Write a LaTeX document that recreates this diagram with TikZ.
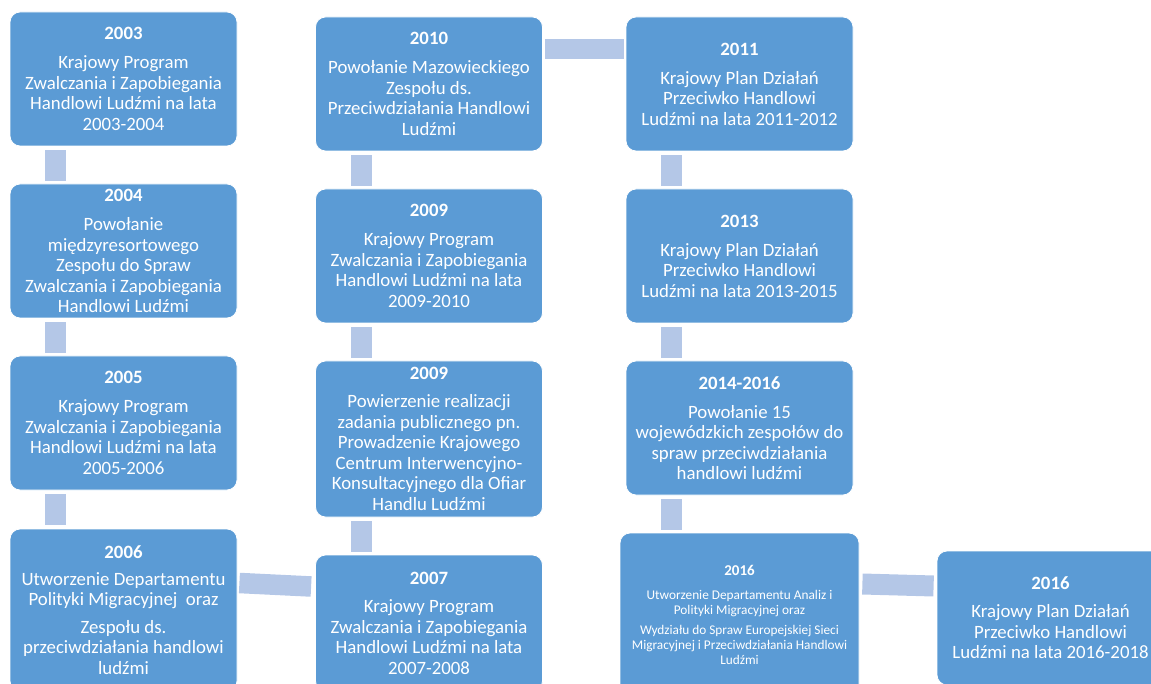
\documentclass[tikz,border=0pt]{standalone}
\usepackage{fontspec}
\setmainfont{Carlito}
\definecolor{boxblue}{HTML}{5B9BD5}
\definecolor{linkblue}{HTML}{B4C7E7}

\begin{document}
\begin{tikzpicture}[x=1pt,y=-1pt,
    box/.style={rectangle,rounded corners=10pt,fill=boxblue,draw=white,line width=0.8pt,
        text=white,align=center,minimum width=227pt,minimum height=134pt,inner sep=2pt,
        font=\fontsize{18.8}{20.5}\selectfont},
    link/.style={draw=linkblue,line width=21pt}]
    \useasboundingbox (0,0) rectangle (1151,684);
    \clip (0,0) rectangle (1151,684);

    \node[box] (y2003) at (123.5,79) {\textbf{2003}\\[8.5pt]Krajowy Program\\Zwalczania i Zapobiegania\\Handlowi Ludźmi na lata\\2003-2004};
    \node[box] (y2004) at (123.5,251) {\textbf{2004}\\[8.5pt]Powołanie\\międzyresortowego\\Zespołu do Spraw\\Zwalczania i Zapobiegania\\Handlowi Ludźmi};
    \node[box] (y2005) at (123.5,423) {\textbf{2005}\\[8.5pt]Krajowy Program\\Zwalczania i Zapobiegania\\Handlowi Ludźmi na lata\\2005-2006};
    \node[box,minimum height=162pt] (y2006) at (123.5,610) {\textbf{2006}\\[6pt]Utworzenie Departamentu\\Polityki Migracyjnej\ \ oraz\\[7pt]Zespołu ds.\\przeciwdziałania handlowi\\ludźmi};

    \node[box,minimum height=136pt] (y2007) at (429,623) {\textbf{2007}\\[8pt]Krajowy Program\\Zwalczania i Zapobiegania\\Handlowi Ludźmi na lata\\2007-2008};
    \node[box,minimum height=156pt] (y2009b) at (429,439) {\textbf{2009}\\[7.5pt]Powierzenie realizacji\\zadania publicznego pn.\\Prowadzenie Krajowego\\Centrum Interwencyjno-\\Konsultacyjnego dla Ofiar\\Handlu Ludźmi};
    \node[box] (y2009a) at (429,256) {\textbf{2009}\\[8.5pt]Krajowy Program\\Zwalczania i Zapobiegania\\Handlowi Ludźmi na lata\\2009-2010};
    \node[box] (y2010) at (429,84) {\textbf{2010}\\[8.5pt]Powołanie Mazowieckiego\\Zespołu ds.\\Przeciwdziałania Handlowi\\Ludźmi};

    \node[box] (y2011) at (739.5,84) {\textbf{2011}\\[8.5pt]Krajowy Plan Działań\\Przeciwko Handlowi\\Ludźmi na lata 2011-2012};
    \node[box] (y2013) at (739.5,256) {\textbf{2013}\\[8.5pt]Krajowy Plan Działań\\Przeciwko Handlowi\\Ludźmi na lata 2013-2015};
    \node[box] (y2014) at (739.5,428) {\textbf{2014-2016}\\[8.5pt]Powołanie 15\\wojewódzkich zespołów do\\spraw przeciwdziałania\\handlowi ludźmi};
    \node[box,minimum width=239pt,minimum height=164pt,font=\fontsize{13.3}{14.8}\selectfont] (y2016a) at (739.5,615)
        {{\fontsize{15}{15}\selectfont\textbf{2016}}\\[9pt]Utworzenie Departamentu Analiz i\\Polityki Migracyjnej oraz\\[6pt]Wydziału do Spraw Europejskiej Sieci\\Migracyjnej i Przeciwdziałania Handlowi\\Ludźmi};
    \node[box] (y2016b) at (1050.5,618) {\textbf{2016}\\[7.5pt]Krajowy Plan Działań\\Przeciwko Handlowi\\Ludźmi na lata 2016-2018};

    % connectors
    \draw[link] ([shift={(-68,4)}]y2003.south) -- ([shift={(-68,-3)}]y2004.north);
    \draw[link] ([shift={(-68,4)}]y2004.south) -- ([shift={(-68,-3)}]y2005.north);
    \draw[link] ([shift={(-68,4)}]y2005.south) -- ([shift={(-68,-4)}]y2006.north);
    \draw[link,line width=20.5pt] ([shift={(2,-27)}]y2006.east) -- ([shift={(-4,-36.5)}]y2007.west);
    \draw[link] ([shift={(-68,-3)}]y2007.north) -- ([shift={(-68,4)}]y2009b.south);
    \draw[link] ([shift={(-68,-3)}]y2009b.north) -- ([shift={(-68,4)}]y2009a.south);
    \draw[link] ([shift={(-68,-3)}]y2009a.north) -- ([shift={(-68,4)}]y2010.south);
    \draw[link,line width=20pt] ([shift={(2,-35)}]y2010.east) -- ([shift={(-2,-35)}]y2011.west);
    \draw[link] ([shift={(-68,4)}]y2011.south) -- ([shift={(-68,-3)}]y2013.north);
    \draw[link] ([shift={(-68,4)}]y2013.south) -- ([shift={(-68,-3)}]y2014.north);
    \draw[link] ([shift={(-68,4)}]y2014.south) -- ([shift={(-68,-3)}]y2016a.north);
    \draw[link] ([shift={(3,-31)}]y2016a.east) -- ([shift={(-3,-32)}]y2016b.west);
\end{tikzpicture}
\end{document}
